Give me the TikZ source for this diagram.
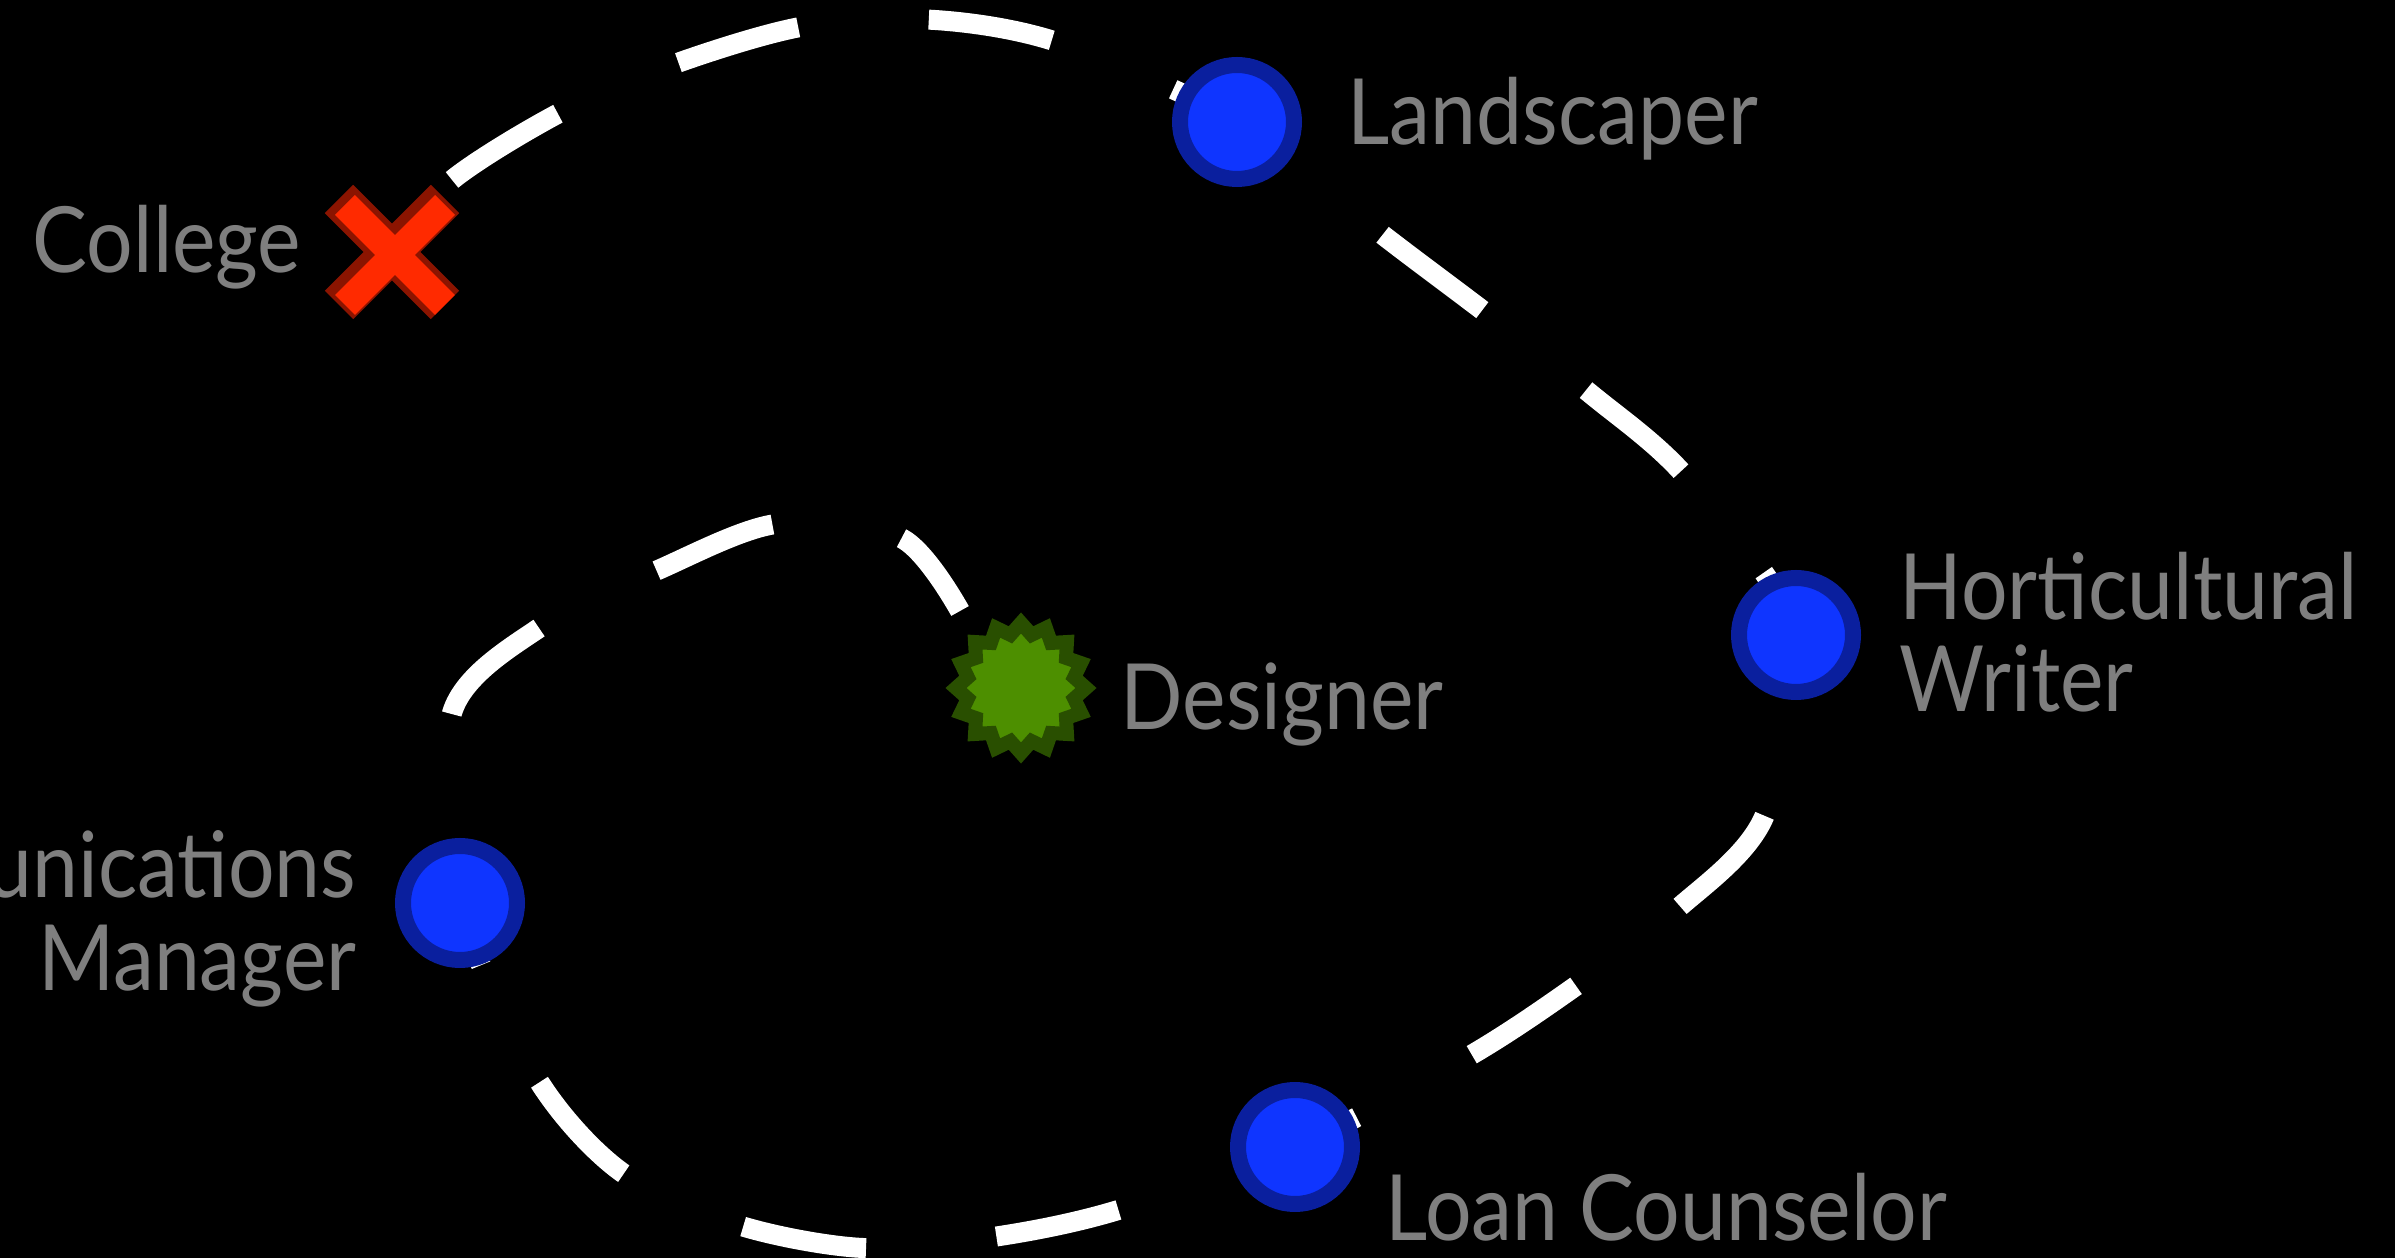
\documentclass[tikz,border=0pt]{standalone}
\usepackage{fontspec}
\setmainfont{Lato}[FakeStretch=0.9]
\usepackage{tikz}
\usetikzlibrary{shapes.geometric}

\definecolor{ringblue}{HTML}{0A1F9E}
\definecolor{dotblue}{HTML}{0F35FF}
\definecolor{stardark}{HTML}{294F00}
\definecolor{stargreen}{HTML}{4D8F00}
\definecolor{crossdark}{HTML}{8B1400}
\definecolor{crossred}{HTML}{FF2A00}
\definecolor{labelgray}{HTML}{7F7F7F}

\begin{document}
\begin{tikzpicture}[
    lbl/.style={text=labelgray, font=\fontsize{26}{26.3}\selectfont, inner sep=0pt},
    job/.style={circle, draw=ringblue, fill=dotblue, line width=0.16cm, minimum size=1.14cm, inner sep=0pt},
    spiral/.style={white, line width=0.2cm, dash pattern=on 1.25cm off 1.31cm, dash phase=1.62cm}]
    \path[use as bounding box, fill=black] (0,0) rectangle (23.95,12.58);
    \coordinate (college) at (3.92,10.06);
    \coordinate (land) at (12.37,11.36);
    \coordinate (hort) at (17.96,6.23);
    \coordinate (loan) at (12.95,1.11);
    \coordinate (comm) at (4.60,3.55);
    \coordinate (design) at (10.21,5.70);
    % the career path, from college round to designer
    \draw[spiral] plot[smooth] coordinates {(college) (4.52,10.78) (5.65,11.48) (6.83,11.97) (8.06,12.32) (9.35,12.38) (10.60,12.15)
        (land) (13.88,10.19) (14.90,9.42) (15.92,8.63) (16.87,7.80)
        (hort) (17.64,4.41) (16.76,3.48) (15.73,2.70) (14.66,2.00)
        (loan) (11.15,0.47) (9.93,0.21) (8.63,0.10) (7.38,0.33) (6.20,0.87) (5.35,1.83)
        (comm) (4.52,5.45) (5.42,6.32) (6.58,6.88) (7.76,7.34) (9.01,7.20) (9.60,6.47)};
    \draw[line width=0.40cm, crossdark] (college) +(-0.53,0.53) -- +(0.53,-0.53) (college) +(-0.53,-0.53) -- +(0.53,0.53);
    \draw[line width=0.28cm, crossred] (college) +(-0.47,0.47) -- +(0.53,-0.53) (college) +(-0.47,-0.53) -- +(0.53,0.47);
    \foreach \p in {land,hort,loan,comm} {\node[job] (dot\p) at (\p) {};}
    \node[star, star points=16, star point ratio=1.2, minimum size=1.3cm, inner sep=0pt, draw=stardark, fill=stargreen, line width=0.14cm] (dotdesign) at (design) {};
    \node[lbl, anchor=base east] (collegetext) at (3.02,9.85) {College};
    \node[lbl, anchor=base west] (landtext) at (13.47,11.13) {Landscaper};
    \node[lbl, anchor=base west, align=left] (horttext) at (18.99,5.46) {Horticultural\\Writer};
    \node[lbl, anchor=base west] (designtext) at (11.20,5.28) {Designer};
    \node[lbl, anchor=base east, align=right] (commtext) at (3.57,2.68) {Communications\\Manager};
    \node[lbl, anchor=base west] (loantext) at (13.85,0.18) {Loan Counselor};
\end{tikzpicture}
\end{document}
